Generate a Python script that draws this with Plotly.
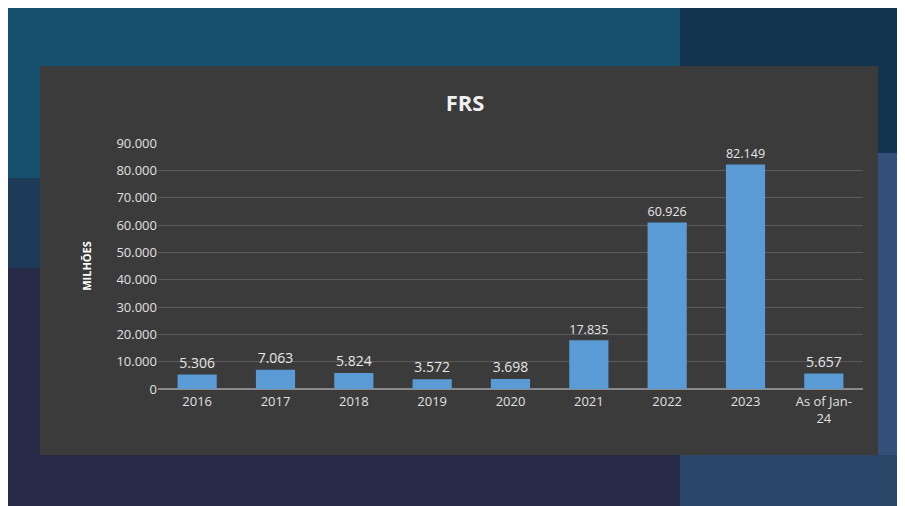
import plotly.graph_objects as go

# values in millions
years = ["2016", "2017", "2018", "2019", "2020", "2021", "2022", "2023", "As of Jan-<br>24"]
values = [5306, 7063, 5824, 3572, 3698, 17835, 60926, 82149, 5657]
labels = [f"{v:,}".replace(",", ".") for v in values]

W, H = 905, 506
L, R, T, B = 150, 50, 135, 125
PW, PH = W - L - R, H - T - B


def px(x):
    return (x - L) / PW


def py(y):
    return (H - B - y) / PH


fig = go.Figure()
fig.add_trace(go.Bar(
    x=years, y=values, text=labels, textposition="outside",
    textfont=dict(color="#e6e6e6", size=14),
    marker=dict(color="#5b9bd5", line=dict(width=0)),
    width=0.5, cliponaxis=False,
))


def rect(x0, x1, y0, y1, color):
    return dict(type="rect", xref="paper", yref="paper", x0=px(x0), x1=px(x1),
                y0=py(y1), y1=py(y0), fillcolor=color, line_width=0, layer="below")


shapes = [
    rect(0, W, 0, H, "#17506f"),
    rect(0, W, 170, 260, "#1d3a58"),
    rect(0, W, 260, H, "#272b48"),
    rect(672, W, 0, 145, "#12344f"),
    rect(672, W, 145, 447, "#34507a"),
    rect(672, W, 447, H, "#2a4668"),
    rect(32, 870, 58, 447, "#3b3b3b"),  # chart panel
]

fig.update_layout(
    width=W, height=H,
    paper_bgcolor="#17506f", plot_bgcolor="rgba(0,0,0,0)",
    margin=dict(l=L, r=R, t=T, b=B),
    separators=",.",
    shapes=shapes,
    showlegend=False,
    font=dict(family="Open Sans, Noto Sans, sans-serif", color="#e0e0e0"),
    title=dict(text="<b>FRS</b>", x=0.505, xanchor="center", y=1-95/506, yanchor="middle",
               font=dict(size=22, color="#f0f0f0")),
    bargap=0.5,
)
fig.update_yaxes(range=[0, 90000], dtick=10000, tickformat=",d",
                 gridcolor="#5c5c5c", zeroline=True, zerolinecolor="#8a8a8a",
                 tickfont=dict(size=13, color="#e0e0e0"), ticks="", ticklen=6,
                 title=dict(text="<b>MILHÕES</b>", font=dict(size=11, color="#ffffff"), standoff=22))
fig.update_xaxes(tickfont=dict(size=13, color="#e0e0e0"), showline=True, linecolor="#8a8a8a",
                 ticks="")

fig.write_html("out.html")
